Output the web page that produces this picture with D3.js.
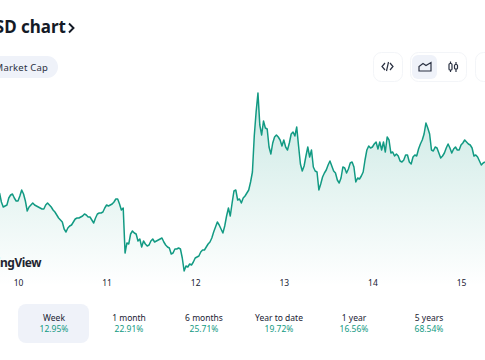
<!DOCTYPE html>
<html>
<head>
<meta charset="utf-8">
<script src="https://cdn.jsdelivr.net/npm/d3@7"></script>
<style>
  html, body { margin: 0; padding: 0; background: #fff; overflow: hidden; }
  svg { display: block; font-family: "Noto Sans", sans-serif; }
</style>
</head>
<body>
<svg id="chart" width="485" height="360"></svg>
<script>
"use strict";

// half hour samples (relative price level)
const beforeDay10 = [107, 98, 93, 94, 95, 102, 105, 106, 102, 99];
const day10 = [99, 104, 110, 106, 99, 89, 93, 95, 97, 95,
  94, 93, 92, 91, 91, 95, 97, 95, 93, 90,
  88, 85, 82, 80, 78, 71, 68, 72, 74, 75,
  78, 81, 82, 82, 83, 84, 86, 85, 83, 83,
  80, 77, 82, 86, 87, 87, 88, 92];
const day11 = [95, 94, 95, 96, 98, 101, 101, 96, 90, 92,
  47, 57, 56, 66, 69, 67, 66, 59, 61, 53,
  59, 56, 54, 55, 59, 61, 58, 59, 60, 61,
  62, 58, 55, 53, 52, 46, 47, 51, 51, 52,
  51, 42, 29, 34, 33, 36, 35, 38];
const day12 = [42, 43, 44, 48, 50, 50, 53, 56, 58, 62,
  68, 73, 78, 75, 71, 67, 74, 84, 92, 84,
  97, 109, 110, 100, 101, 97, 102, 104, 107, 110,
  118, 128, 164, 188, 207, 175, 165, 179, 172, 171,
  153, 146, 157, 163, 165, 163, 160, 154];
const day13 = [160, 153, 150, 157, 166, 168, 164, 173, 154, 136,
  129, 134, 144, 153, 143, 150, 133, 129, 128, 110,
  116, 123, 127, 130, 135, 139, 134, 129, 127, 120,
  117, 122, 133, 132, 127, 131, 137, 138, 133, 118,
  122, 121, 124, 128, 140, 150, 154, 152];
const day14 = [153, 156, 158, 151, 158, 150, 158, 148, 163, 160,
  147, 148, 144, 146, 144, 139, 138, 140, 145, 145,
  138, 136, 143, 145, 144, 151, 156, 160, 166, 177,
  172, 166, 150, 149, 153, 152, 147, 142, 144, 147,
  152, 156, 152, 147, 151, 153, 150, 150];
const day15 = [155, 157, 160, 158, 156, 155, 152, 144, 145, 143, 139, 135, 137, 138];

const dayTicks = [10, 11, 12, 13, 14, 15];
const periods = ['Week', '1 month', '6 months', 'Year to date', '1 year', '5 years'];
const changes = ['12.95%', '22.91%', '25.71%', '19.72%', '16.56%', '68.54%'];

const LINE_COLOR = '#129a83';
const ACTIVE_BG = '#eff2f9';
const BORDER = '#f3f5f8';

const svg = d3.select('#chart');

// join the days into one series, time in days
const samples = [...beforeDay10, ...day10, ...day11, ...day12, ...day13, ...day14, ...day15];
const series = samples.map((v, i) => ({ t: 10 + (i - beforeDay10.length) / 48, v }));

const x = d3.scaleLinear().domain([10, 16]).range([18, 549.6]);
const y = d3.scaleLinear().domain([0, 300]).range([300, 0]);

const defs = svg.append('defs');
const grad = defs.append('linearGradient')
  .attr('id', 'areaFill')
  .attr('gradientUnits', 'userSpaceOnUse')
  .attr('x1', 0).attr('x2', 0).attr('y1', 93).attr('y2', 286);
grad.append('stop').attr('offset', 0).attr('stop-color', LINE_COLOR).attr('stop-opacity', 0.22);
grad.append('stop').attr('offset', 1).attr('stop-color', LINE_COLOR).attr('stop-opacity', 0);

const area = d3.area().x((d) => x(d.t)).y0(y(14)).y1((d) => y(d.v));
const line = d3.line().x((d) => x(d.t)).y((d) => y(d.v));

svg.append('path').datum(series).attr('d', area).attr('fill', 'url(#areaFill)');
svg.append('path').datum(series).attr('d', line)
  .attr('fill', 'none')
  .attr('stroke', LINE_COLOR)
  .attr('stroke-width', 1.5)
  .attr('stroke-linejoin', 'round');

// x axis
const axis = d3.axisBottom(x).tickValues(dayTicks).tickSize(0).tickFormat(d3.format('d'));
const axisG = svg.append('g').attr('transform', 'translate(0,277)').call(axis);
axisG.select('.domain').remove();
axisG.selectAll('text')
  .attr('fill', '#1a2233')
  .style('font-family', '"Noto Sans", sans-serif')
  .style('font-size', '8.5px');

// title, cut by the left edge like in the page
svg.append('text')
  .attr('x', 66).attr('y', 33)
  .attr('text-anchor', 'end')
  .attr('fill', '#141a26')
  .style('font-size', '17px')
  .style('font-weight', 700)
  .text('USD chart');
svg.append('path')
  .attr('d', 'M69 23.5 L73.5 28 L69 32.5')
  .attr('fill', 'none')
  .attr('stroke', '#141a26')
  .attr('stroke-width', 1.9);

// market cap pill
svg.append('rect')
  .attr('x', -40).attr('y', 56).attr('width', 98).attr('height', 22).attr('rx', 11)
  .attr('fill', ACTIVE_BG);
svg.append('text')
  .attr('x', 48).attr('y', 71)
  .attr('text-anchor', 'end')
  .attr('fill', '#2a3142')
  .style('font-size', '9.5px')
  .style('letter-spacing', '0.2px')
  .text('Market Cap');

// watermark
svg.append('text')
  .attr('x', 41).attr('y', 266.5)
  .attr('text-anchor', 'end')
  .attr('fill', '#1f2430')
  .style('font-size', '12px')
  .style('letter-spacing', '-0.5px')
  .style('font-weight', 700)
  .text('TradingView');

// toolbar boxes
[[373, 29], [410, 56], [475, 40]].forEach(([bx, bw]) => {
  svg.append('rect')
    .attr('x', bx + 0.5).attr('y', 52.5).attr('width', bw).attr('height', 29).attr('rx', 8)
    .attr('fill', '#fff').attr('stroke', BORDER);
});
svg.append('rect')
  .attr('x', 412).attr('y', 55).attr('width', 25).attr('height', 24).attr('rx', 6)
  .attr('fill', ACTIVE_BG);

const icons = svg.append('g').attr('fill', 'none').attr('stroke', '#2a3142').attr('stroke-width', 1.2);
// code icon
icons.append('path').attr('d', 'M385 63 L382 66.500 L385 70 M390 63 L393 66.500 L390 70 M388.500 62 L386.500 71');
// area icon
icons.append('path').attr('d', 'M419 71 L419 66.500 L423 63.500 L426 65.500 L431 62.500 L431 71 Z');
// candles icon
icons.append('path').attr('d', 'M450.500 61.500 L450.500 72 M456 62 L456 72');
icons.append('rect').attr('x', 449).attr('y', 63.500).attr('width', 3).attr('height', 6.500).attr('rx', 1).attr('fill', '#fff');
icons.append('rect').attr('x', 454.500).attr('y', 64.500).attr('width', 3).attr('height', 4.500).attr('rx', 1).attr('fill', '#fff');

// period tabs
const tabX = d3.scalePoint().domain(periods).range([54, 429]);
svg.append('rect')
  .attr('x', 18).attr('y', 304).attr('width', 71).attr('height', 39).attr('rx', 8)
  .attr('fill', ACTIVE_BG);

const tabs = svg.selectAll('.tab').data(periods).enter().append('g')
  .attr('class', 'tab')
  .attr('transform', (d) => `translate(${tabX(d)},0)`)
  .attr('text-anchor', 'middle');
tabs.append('text')
  .attr('y', 321)
  .attr('fill', '#1a2233')
  .style('font-size', '8.5px')
  .text((d) => d);
tabs.append('text')
  .attr('y', 332)
  .attr('fill', LINE_COLOR)
  .style('font-size', '8.5px')
  .text((d, i) => changes[i]);
</script>
</body>
</html>
